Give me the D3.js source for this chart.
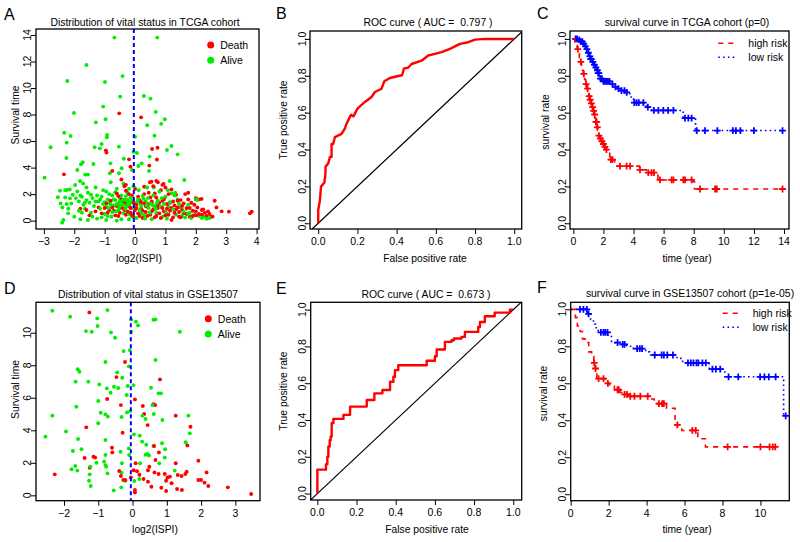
<!DOCTYPE html>
<html><head><meta charset="utf-8">
<script src="https://cdn.jsdelivr.net/npm/d3@7"></script>
<style>body{margin:0;background:#fff} text{font-family:"Liberation Sans",Arial,sans-serif;fill:#000;white-space:pre}</style>
</head><body><svg id="c" width="800" height="542"></svg>
<script>
// ---------- DATA ----------
const aAlive = [[-0.68,13.8],[0.73,13.8],[-1.6,11.74],[-2.23,10.53],[-0.99,10.45],[-0.41,10.9],[-0.49,9.35],[0.29,9.4],[0.51,9.2],[-2.01,8.12],[-1.05,8.6],[-0.97,7.64],[-1.29,7.41],[0.68,8.2],[0.98,7.64],[0.86,7.3],[0.40,7.19],[-2.33,6.63],[-2.12,6.38],[-2.25,5.88],[-0.92,6.46],[-0.93,6.28],[-1.10,5.78],[-1.16,5.45],[-1.33,5.53],[-2.78,5.53],[-0.53,5.58],[0.64,6.41],[1.20,5.63],[1.05,5.33],[1.40,5.0],[0.0,6.33],[-2.26,4.72],[-0.37,4.67],[0.48,4.83],[-1.37,4.27],[-0.81,4.32],[-1.78,4.25],[-1.72,4.4],[0.22,4.32],[-2.98,3.24],[-1.90,3.82],[-0.44,3.95],[-0.10,3.82],[0.11,4.12],[-0.53,3.57],[-0.83,3.57],[-1.64,3.47],[-1.55,3.47],[1.14,2.99],[1.62,3.07],[-1.81,2.99],[-1.71,2.81],[-1.97,2.69],[-2.25,2.31],[-2.47,2.26],[-2.54,1.76],[-2.39,1.0],[-2.36,0.05],[-2.40,-0.15],[-2.14,1.68],[0.46,3.75],[-0.05,5.2],[0.06,5.1],
[-2.3,2.3],[-2.15,2.35],[-2.05,1.95],[-2.1,1.3],[-2.25,1.25],[-2.2,0.9],[-1.95,1.7],[-1.85,1.45],[-1.75,1.8],[-1.7,1.2],[-1.65,0.9],[-1.6,1.55],[-1.55,2.1],[-1.5,1.35],[-1.45,0.6],[-1.4,1.7],[-1.35,1.1],[-1.3,2.5],[-1.25,0.15],[-1.2,1.45],[-1.15,0.9],[-1.1,1.8],[-1.05,1.25],[-1.0,0.5],[-0.95,2.2],[-0.9,1.6],[-0.88,0.95],[-0.85,1.35],[-0.8,2.9],[-0.78,0.3],[-0.75,1.9],[-0.7,1.15],[-0.65,1.55],[-0.62,0.7],[-0.6,2.4],[-0.55,1.3],[-0.52,1.0],[-0.5,1.7],[-0.45,0.1],[-0.42,1.45],[-0.4,1.2],[-0.38,2.8],[-0.35,1.6],[-0.32,0.9],[-0.3,1.35],[-0.28,1.1],[-0.25,2.1],[-0.22,1.5],[-0.2,0.5],[-0.18,1.25],[-0.15,1.75],[-0.1,0.95],[-0.05,2.6],[0.0,1.3],[0.05,0.2],[0.1,1.6],[0.12,2.3],[0.15,0.8],[0.2,1.1],[0.25,1.85],[0.3,0.4],[0.35,1.45],[0.4,2.5],[0.45,0.95],[0.5,1.3],[0.55,0.1],[0.6,1.9],[0.65,1.1],[0.7,0.6],[0.75,1.5],[0.8,2.2],[0.9,0.3],[0.95,1.25],[1.0,1.8],[1.05,0.15],[1.1,1.05],[1.2,2.05],[1.3,1.9],[1.35,0.45],[1.4,1.6],[1.5,1.0],[1.6,0.7],[1.65,0.25],[1.75,1.2],[1.85,0.2],[1.95,0.45],[2.05,1.55],[2.2,0.2],[2.35,0.15],[-2.0,0.3],[-1.8,0.1],[-1.55,0.05],[-0.95,0.05],[-0.6,0.0],[-0.2,0.1],[2.0,1.6],[1.75,0.5],
[-2.45,1.3],[-2.3,1.75],[-2.2,0.55],[-1.9,2.2],[-1.85,0.75],[-1.8,1.9],[-1.75,0.6],[-1.65,1.35],[-1.6,2.5],[-1.45,1.95],[-1.4,0.3],[-1.3,1.45],[-1.25,1.9],[-1.15,1.6],[-1.1,0.25],[-1.05,2.3],[-1.0,1.4],[-0.95,1.05],[-0.9,0.35],[-0.85,2.0],[-0.8,1.2],[-0.75,0.65],[-0.7,1.6],[-0.65,2.15],[-0.6,1.25],[-0.55,0.8],[-0.5,1.45],[-0.47,1.15],[-0.45,1.9],[-0.4,1.55],[-0.37,0.55],[-0.33,1.3],[-0.3,1.85],[-0.27,1.5],[-0.23,1.2],[-0.2,2.4],[-0.15,1.4],[-0.12,0.35],[-0.08,1.55],[0.02,1.0],[0.08,1.45],[0.18,1.3],[0.22,0.55],[0.28,1.65],[0.33,0.15],[0.38,1.15],[0.42,1.7],[0.48,0.6],[0.58,1.2],[0.62,2.5],[0.68,0.9],[0.72,1.35],[0.85,1.05],[0.88,1.7],[1.02,0.6],[1.08,2.3],[1.15,1.4],[1.25,0.85],[1.32,2.1],[1.45,1.25],[1.55,0.35],[1.7,0.9],[1.8,0.6],[2.1,0.35],[2.25,0.3],[2.45,0.2]];
const aDeath = [[-0.52,8.09],[0.20,7.79],[-0.94,5.13],[-0.96,5.3],[-0.2,4.62],[-2.34,3.49],[0.56,5.40],[0.74,5.50],[0.47,4.15],[-0.15,4.07],[0.54,2.94],[0.94,2.76],[-0.75,3.75],[-0.3,2.7],[0.72,4.61],[0.49,2.9],[0.75,2.9],
[-1.8,0.9],[-1.6,0.8],[-1.3,0.7],[-1.1,0.55],[-1.0,0.95],[-0.9,0.6],[-0.8,1.5],[-0.7,0.75],[-0.6,2.05],[-0.55,0.35],[-0.5,0.95],[-0.45,1.6],[-0.35,0.8],[-0.3,2.25],[-0.25,0.7],[-0.2,1.1],[-0.15,0.6],[-0.1,1.9],[-0.05,0.3],[0.0,0.8],[0.05,1.2],[0.1,0.55],[0.15,1.55],[0.2,0.9],[0.25,0.2],[0.3,1.3],[0.35,0.65],[0.4,1.05],[0.45,2.1],[0.5,0.45],[0.55,1.45],[0.6,0.85],[0.65,0.25],[0.7,1.75],[0.75,1.15],[0.8,0.55],[0.85,2.3],[0.9,0.95],[0.95,1.6],[1.0,0.4],[1.05,1.25],[1.1,2.0],[1.15,0.75],[1.2,0.05],[1.25,1.45],[1.3,0.6],[1.35,1.95],[1.4,1.0],[1.45,0.3],[1.5,1.55],[1.55,0.8],[1.6,1.3],[1.7,0.5],[1.75,1.6],[1.8,0.95],[1.9,0.35],[1.95,1.2],[2.0,0.7],[2.1,0.5],[2.19,1.64],[2.2,0.45],[2.24,0.85],[2.3,0.6],[2.4,0.7],[2.5,0.3],[2.55,0.3],[2.62,1.5],[2.68,1.0],[2.85,0.7],[3.09,0.68],[3.78,0.55],[3.84,0.68],
[-1.5,0.4],[-1.2,1.0],[-0.95,1.3],[-0.85,0.8],[-0.75,1.0],[-0.65,0.4],[-0.6,1.1],[-0.5,0.6],[-0.4,0.95],[-0.35,1.35],[-0.3,0.45],[-0.25,1.55],[-0.15,0.95],[-0.1,0.45],[-0.05,1.35],[0.0,2.4],[0.05,0.95],[0.1,1.8],[0.15,0.35],[0.2,1.4],[0.25,0.75],[0.3,2.0],[0.35,1.1],[0.4,0.35],[0.45,1.25],[0.5,1.75],[0.55,0.7],[0.6,1.15],[0.65,2.05],[0.7,0.35],[0.75,0.95],[0.8,1.35],[0.85,0.2],[0.9,1.5],[0.95,0.7],[1.0,2.5],[1.05,0.9],[1.1,0.45],[1.15,1.35],[1.2,0.95],[1.25,0.25],[1.3,1.15],[1.35,0.85],[1.4,1.5],[1.45,0.65],[1.5,0.25],[1.55,1.1],[1.6,0.55],[1.65,2.0],[1.7,0.95],[1.8,0.3],[1.85,1.35],[1.9,0.75],[2.0,0.4],[2.05,1.0],[2.1,1.6],[2.2,0.8],[2.35,0.35],[2.45,0.5],[2.0,1.7],[1.75,2.1],[0.9,2.7],[0.6,2.6],[0.3,2.55],[-0.2,2.0],[-0.55,1.85],[-0.45,3.1],[-0.35,2.6],[0.7,3.0],[1.2,2.35]];

const dAlive = [[-2.34,11.35],[-1.82,10.98],[-1.03,10.88],[-0.73,11.39],[-1.36,10.1],[-1.19,10.06],[-1.02,10.41],[-0.63,10.02],[-0.51,9.69],[-0.04,10.82],[0.10,10.68],[0.16,10.45],[0.61,10.8],[0.67,10.82],[1.38,10.06],[-0.04,10.06],[-0.26,8.87],[-0.08,8.93],[-0.79,8.2],[-0.11,7.93],[0.67,8.32],[-1.6,7.75],[-1.55,7.6],[-1.66,6.99],[-1.29,6.99],[-0.45,7.56],[-0.3,7.23],[-0.97,6.82],[-0.75,6.58],[-0.54,6.68],[-0.42,6.6],[-0.64,6.31],[-0.14,6.72],[0.03,6.78],[0.54,6.62],[-0.17,6.17],[-1.0,5.8],[-1.64,5.45],[0.76,6.27],[0.83,6.27],[0.58,5.55],[0.62,5.0],[-0.93,5.08],[-0.79,4.98],[-0.72,4.84],[-0.32,4.82],[-0.16,5.1],[-0.07,5.18],[0.29,4.9],[0.38,4.69],[0.87,4.63],[1.63,4.9],[-2.34,4.9],[-1.0,4.43],[-1.94,3.93],[-2.54,3.61],[-1.59,3.46],[-0.79,3.4],[0.04,3.75],[0.21,3.67],[0.28,3.3],[0.4,3.11],[0.61,3.03],[0.86,3.2],[1.55,3.26],[1.67,3.81],[-1.74,2.73],[-1.49,2.83],[-0.79,2.48],[-0.83,2.07],[-0.79,1.86],[-0.77,1.76],[-0.35,2.68],[-0.11,2.89],[-0.1,2.48],[-0.31,1.97],[0.38,2.5],[0.43,2.55],[0.48,2.45],[0.22,1.97],[0.78,1.97],[0.94,2.32],[0.95,2.83],[1.23,1.52],[-1.78,1.6],[-1.61,1.52],[-1.67,1.8],[-1.23,1.76],[-1.25,1.29],[-1.27,0.9],[-1.22,0.57],[-0.73,1.35],[-0.32,1.39],[-0.21,0.9],[-0.33,0.49],[0.05,0.88],[0.2,1.0],[-1.05,2.0],[-0.55,0.3]];
const dDeath = [[-1.26,11.25],[-0.22,8.2],[-0.47,7.27],[0.8,7.13],[-0.74,5.92],[0.07,5.9],[-0.34,5.55],[0.3,5.49],[0.61,5.6],[0.66,5.55],[0.34,5.0],[0.44,4.32],[1.26,4.9],[1.69,4.22],[-1.35,4.18],[-0.29,3.85],[0.63,3.03],[1.6,3.07],[-0.6,2.93],[-0.59,2.64],[0.77,2.64],[-1.14,2.38],[-1.09,2.32],[-1.4,2.3],[-1.25,1.7],[0.09,1.97],[0.67,2.17],[1.26,1.97],[1.92,2.13],[-2.27,1.29],[-0.39,1.5],[-0.34,1.19],[-0.27,0.94],[-0.21,0.94],[0.03,1.54],[0.2,1.27],[0.32,1.0],[0.45,0.84],[0.13,1.48],[0.45,1.54],[0.49,1.76],[0.64,1.41],[0.76,1.31],[0.94,1.31],[0.98,0.9],[1.09,1.15],[1.14,0.74],[0.98,0.27],[1.32,1.25],[1.43,1.19],[1.54,1.31],[1.58,1.45],[1.44,0.33],[1.3,0.39],[1.92,0.94],[2.0,0.94],[2.1,0.78],[2.16,1.41],[2.21,0.57],[2.78,0.49],[3.46,0.08],[0.07,0.33],[0.07,0.18],[0.55,0.53],[0.84,0.47],[1.02,1.1],[-0.05,1.1]];

const rocB = [[0,0],[0,0.072],[0.009,0.127],[0.014,0.199],[0.031,0.22],[0.037,0.27],[0.037,0.307],[0.051,0.325],[0.06,0.36],[0.068,0.36],[0.068,0.43],[0.076,0.43],[0.085,0.467],[0.119,0.485],[0.136,0.515],[0.145,0.542],[0.167,0.588],[0.18,0.58],[0.2,0.622],[0.238,0.658],[0.272,0.685],[0.289,0.712],[0.323,0.73],[0.337,0.77],[0.366,0.788],[0.408,0.799],[0.428,0.803],[0.437,0.839],[0.46,0.845],[0.476,0.864],[0.527,0.882],[0.561,0.91],[0.595,0.919],[0.629,0.928],[0.672,0.946],[0.723,0.973],[0.765,0.982],[0.8,0.996],[0.85,1.0],[1,1]];
const rocE = [[0,0],[0,0.13],[0.039,0.13],[0.044,0.16],[0.051,0.2],[0.056,0.256],[0.063,0.29],[0.068,0.31],[0.073,0.383],[0.082,0.406],[0.124,0.406],[0.133,0.428],[0.164,0.428],[0.167,0.473],[0.243,0.473],[0.252,0.509],[0.275,0.509],[0.291,0.545],[0.328,0.545],[0.332,0.563],[0.36,0.563],[0.371,0.608],[0.388,0.635],[0.396,0.671],[0.413,0.698],[0.532,0.698],[0.558,0.722],[0.595,0.722],[0.6,0.747],[0.609,0.783],[0.645,0.783],[0.651,0.825],[0.685,0.834],[0.697,0.843],[0.736,0.852],[0.753,0.879],[0.804,0.879],[0.821,0.906],[0.83,0.933],[0.855,0.964],[0.898,0.964],[0.905,0.984],[0.974,0.984],[0.983,1.0],[1,1]];

const survCHigh = [[0,1],[0.1,0.985],[0.18,0.965],[0.25,0.945],[0.33,0.92],[0.4,0.9],[0.47,0.876],[0.55,0.85],[0.6,0.83],[0.66,0.81],[0.75,0.78],[0.82,0.755],[0.9,0.73],[0.97,0.71],[1.03,0.69],[1.1,0.67],[1.17,0.65],[1.24,0.63],[1.3,0.61],[1.38,0.59],[1.44,0.57],[1.5,0.55],[1.56,0.52],[1.62,0.5],[1.68,0.475],[1.76,0.46],[1.85,0.445],[1.95,0.43],[2.05,0.415],[2.15,0.4],[2.3,0.385],[2.42,0.345],[2.75,0.325],[2.9,0.31],[4.4,0.29],[4.85,0.275],[5.62,0.235],[7.95,0.225],[8.05,0.186],[13.9,0.186]];
const survCLow = [[0,1],[0.3,0.995],[0.5,0.985],[0.65,0.975],[0.75,0.96],[0.85,0.945],[0.95,0.925],[1.05,0.905],[1.15,0.89],[1.25,0.875],[1.35,0.86],[1.45,0.845],[1.55,0.83],[1.65,0.815],[1.72,0.8],[1.8,0.785],[1.95,0.77],[2.5,0.755],[2.65,0.74],[2.95,0.73],[3.2,0.72],[3.55,0.71],[3.75,0.69],[3.85,0.675],[4.0,0.655],[4.7,0.645],[4.85,0.63],[5.2,0.612],[7.3,0.57],[8.12,0.503],[13.9,0.503]];
const censCHigh = [0.3,0.5,0.7,0.85,0.95,1.05,1.12,1.2,1.28,1.35,1.42,1.5,1.55,1.6,1.7,1.8,1.9,2.0,2.1,2.2,2.5,2.6,3.1,3.54,3.77,4.43,4.98,5.2,5.36,5.76,6.53,6.65,7.31,7.42,7.86,8.42,9.42,9.53,13.9];
const censCLow = [0.15,0.25,0.4,0.5,0.6,0.7,0.8,0.9,1.0,1.1,1.15,1.2,1.3,1.4,1.5,1.6,1.65,1.7,1.8,1.9,2.0,2.1,2.2,2.3,2.4,2.6,2.8,3.0,3.2,3.4,3.55,4.05,4.2,4.35,4.65,4.95,5.35,5.65,5.98,6.3,6.65,7.42,7.64,7.86,8.2,8.75,9.57,10.6,10.8,11.1,12.0,13.9];

const survFHigh = [[0,1],[0.25,0.955],[0.35,0.91],[0.5,0.88],[0.62,0.84],[0.75,0.82],[0.95,0.77],[1.1,0.745],[1.22,0.71],[1.3,0.68],[1.38,0.625],[1.9,0.6],[2.05,0.585],[2.3,0.565],[2.6,0.55],[2.8,0.54],[3.0,0.53],[4.1,0.515],[4.4,0.49],[5.05,0.465],[5.5,0.375],[5.85,0.345],[6.7,0.3],[7.1,0.256],[10.8,0.256]];
const survFLow = [[0,1],[0.9,0.975],[1.05,0.945],[1.2,0.92],[1.3,0.9],[1.45,0.875],[1.95,0.86],[2.15,0.82],[2.6,0.81],[2.95,0.8],[3.3,0.787],[3.95,0.77],[4.15,0.753],[5.6,0.735],[5.9,0.71],[7.3,0.677],[8.12,0.635],[11.22,0.424],[11.33,0.424]];
const censFHigh = [1.24,1.31,1.47,1.73,1.96,2.47,2.53,2.84,2.97,3.14,3.36,3.67,4.06,4.65,4.82,4.91,5.62,6.41,6.59,8.27,10.0,10.48,10.65,10.78];
const censFLow = [0.49,0.67,0.85,0.94,1.59,1.73,1.82,1.94,2.47,2.74,2.84,3.5,3.64,3.76,4.43,4.79,4.91,5.09,5.39,6.18,6.33,6.47,6.63,6.73,6.94,7.12,7.47,7.65,7.88,8.32,8.83,9.98,10.21,10.44,10.8,11.33];

const ticksA_x = [-3,-2,-1,0,1,2,3,4];
const ticksA_y = [0,2,4,6,8,10,12,14];
const ticksD_x = [-2,-1,0,1,2,3];
const ticksD_y = [0,2,4,6,8,10];
const ticksRate = [0,0.2,0.4,0.6,0.8,1.0];
const ticksC_x = [0,2,4,6,8,10,12,14];
const ticksF_x = [0,2,4,6,8,10];
const cutA = -0.04, cutD = -0.05;

// ---------- DRAW ----------
const svg = d3.select("#c");
const fmtInt = d => d < 0 ? "\u2212" + Math.abs(d) : String(d);
const fmt1 = d3.format(".1f");
const RED = "#ff0000", GREEN = "#00ee00", BLUE = "#0000ff";
const TICK_FS = 10.5, LAB_FS = 10.3, TITLE_FS = 10.4;

function panel(c) {
  const g = svg.append("g");
  const x = d3.scaleLinear().domain(c.xd).range([c.box.l, c.box.r]);
  const y = d3.scaleLinear().domain(c.yd).range([c.box.b, c.box.t]);
  const xa = d3.axisBottom(x).tickValues(c.xt).tickSize(5).tickSizeOuter(0).tickFormat("");
  g.append("g").attr("transform", `translate(0,${c.box.b})`).call(xa)
    .call(s => s.select(".domain").remove()).selectAll("line").attr("stroke", "#000");
  const ya = d3.axisLeft(y).tickValues(c.yt).tickSize(5).tickSizeOuter(0).tickFormat("");
  g.append("g").attr("transform", `translate(${c.box.l},0)`).call(ya)
    .call(s => s.select(".domain").remove()).selectAll("line").attr("stroke", "#000");
  g.selectAll(null).data(c.xt).join("text")
    .attr("x", d => x(d)).attr("y", c.box.b + 15.8).attr("text-anchor", "middle")
    .attr("font-size", TICK_FS).text(c.xfmt || c.fmt);
  g.selectAll(null).data(c.yt).join("text")
    .attr("transform", d => `translate(${c.box.l - c.yoff},${y(d)}) rotate(-90)`)
    .attr("text-anchor", "middle").attr("font-size", TICK_FS).text(c.fmt);
  const cy = (c.box.t + c.box.b) / 2;
  g.append("text").attr("x", c.xlabX).attr("y", c.box.b + 32.5).attr("text-anchor", "middle")
    .attr("font-size", LAB_FS).text(c.xlab);
  g.append("text").attr("transform", `translate(${c.ylabX},${cy + c.ylabDy}) rotate(-90)`)
    .attr("text-anchor", "middle").attr("font-size", LAB_FS).text(c.ylab);
  g.append("text").attr("x", c.titleX).attr("y", c.titleY).attr("text-anchor", "middle")
    .attr("font-size", TITLE_FS).text(c.title);
  g.append("text").attr("x", c.letterX).attr("y", c.letterY).attr("font-size", 16).text(c.letter);
  const clipId = "clip" + c.letter;
  g.append("clipPath").attr("id", clipId).append("rect")
    .attr("x", c.box.l).attr("y", c.box.t).attr("width", c.box.r - c.box.l).attr("height", c.box.b - c.box.t);
  const plot = g.append("g").attr("clip-path", `url(#${clipId})`);
  const frame = () => g.append("rect").attr("x", c.box.l).attr("y", c.box.t)
    .attr("width", c.box.r - c.box.l).attr("height", c.box.b - c.box.t)
    .attr("fill", "none").attr("stroke", "#000").attr("stroke-width", 1.3);
  return { g, plot, x, y, frame, box: c.box };
}

function scatter(p, alive, death, cut, leg) {
  const all = alive.map(d => [d, GREEN]).concat(death.map(d => [d, RED]));
  all.sort((a, b) => (a[0][0] * 7.31 + a[0][1] * 3.17) % 1 - (b[0][0] * 7.31 + b[0][1] * 3.17) % 1);
  p.plot.selectAll(null).data(all).join("circle")
    .attr("cx", d => p.x(d[0][0])).attr("cy", d => p.y(d[0][1])).attr("r", 1.95).attr("fill", d => d[1]);
  p.plot.append("line").attr("x1", p.x(cut)).attr("x2", p.x(cut))
    .attr("y1", p.box.t).attr("y2", p.box.b).attr("stroke", BLUE).attr("stroke-width", 2)
    .attr("stroke-dasharray", "4,3");
  const items = [["Death", RED], ["Alive", GREEN]];
  items.forEach((it, i) => {
    p.g.append("circle").attr("cx", leg.x).attr("cy", leg.y + i * 15.3).attr("r", 3.5).attr("fill", it[1]);
    p.g.append("text").attr("x", leg.x + 9.5).attr("y", leg.y + i * 15.3 + 3.8).attr("font-size", 10.5).text(it[0]);
  });
  p.frame();
}

function roc(p, data, stepped) {
  const d0 = Math.max(p.x.domain()[0], p.y.domain()[0]), d1 = Math.min(p.x.domain()[1], p.y.domain()[1]);
  p.plot.append("line").attr("x1", p.x(d0)).attr("y1", p.y(d0)).attr("x2", p.x(d1)).attr("y2", p.y(d1))
    .attr("stroke", "#000").attr("stroke-width", 1.2);
  const line = d3.line().x(d => p.x(d[0])).y(d => p.y(d[1])).curve(stepped ? d3.curveStepAfter : d3.curveLinear);
  p.plot.append("path").attr("d", line(data)).attr("fill", "none").attr("stroke", RED)
    .attr("stroke-width", 2.4).attr("stroke-linejoin", "round");
  p.frame();
}

function stepVal(steps, t) {
  let v = steps[0][1];
  for (const s of steps) { if (s[0] <= t) v = s[1]; else break; }
  return v;
}

function surv(p, high, low, cHigh, cLow, leg) {
  const line = d3.line().x(d => p.x(d[0])).y(d => p.y(d[1])).curve(d3.curveStepAfter);
  const drawCurve = (steps, cens, col, dash, w) => {
    p.plot.append("path").attr("d", line(steps)).attr("fill", "none").attr("stroke", col)
      .attr("stroke-width", w).attr("stroke-dasharray", dash);
    p.plot.selectAll(null).data(cens).join("path")
      .attr("transform", t => `translate(${p.x(t)},${p.y(stepVal(steps, t))})`)
      .attr("d", "M-3.4,0H3.4M0,-3.4V3.4").attr("stroke", col).attr("stroke-width", 1.8);
  };
  drawCurve(low, cLow, BLUE, "1.6,3.2", 1.6);
  drawCurve(high, cHigh, RED, "5,5", 1.6);
  [["high risk", RED, "5,5"], ["low risk", BLUE, "1.6,3.2"]].forEach((it, i) => {
    p.g.append("line").attr("x1", leg.x).attr("x2", leg.x + 17).attr("y1", leg.y + i * 14).attr("y2", leg.y + i * 14)
      .attr("stroke", it[1]).attr("stroke-width", 1.6).attr("stroke-dasharray", it[2]);
    p.g.append("text").attr("x", leg.x + 30).attr("y", leg.y + i * 14 + 3.7).attr("font-size", 10.5).text(it[0]);
  });
  p.frame();
}

// Panel A
const pA = panel({ box: { l: 36, r: 259, t: 29, b: 229 }, xd: [-3.26, 4.08], yd: [-0.63, 14.45],
  xt: ticksA_x, yt: ticksA_y, fmt: fmtInt, yoff: 5, ylabX: 19, ylabDy: -14, xlab: "log2(ISPI)", xlabX: 139, ylab: "Survival time",
  title: "Distribution of vital status in TCGA cohort", titleX: 145, titleY: 26.3, letter: "A", letterX: 4, letterY: 20 });
scatter(pA, aAlive, aDeath, cutA, { x: 210.7, y: 45 });

// Panel B
const pB = panel({ box: { l: 310, r: 521.7, t: 31, b: 229 }, xd: [-0.042, 1.038], yd: [-0.031, 1.043],
  xt: ticksRate, yt: ticksRate, fmt: fmt1, yoff: 4.5, ylabX: 287, ylabDy: -10, xlab: "False positive rate", xlabX: 425, ylab: "True positive rate",
  title: "ROC curve ( AUC =  0.797 )", titleX: 428, titleY: 26.3, letter: "B", letterX: 276, letterY: 18.5 });
roc(pB, rocB, false);

// Panel C
const pC = panel({ box: { l: 570, r: 789, t: 31, b: 229 }, xd: [-0.22, 14.33], yd: [-0.031, 1.043],
  xt: ticksC_x, yt: ticksRate, fmt: fmt1, xfmt: fmtInt, yoff: 4.5, ylabX: 548.5, ylabDy: -8, xlab: "time (year)", xlabX: 687, ylab: "survival rate",
  title: "survival curve in TCGA cohort (p=0)", titleX: 687, titleY: 26.3, letter: "C", letterX: 537, letterY: 18.5 });
surv(pC, survCHigh, survCLow, censCHigh, censCLow, { x: 718.3, y: 43.3 });

// Panel D
const pD = panel({ box: { l: 36, r: 260, t: 302.3, b: 500.7 }, xd: [-2.817, 3.719], yd: [-0.33, 11.87],
  xt: ticksD_x, yt: ticksD_y, fmt: fmtInt, yoff: 5, ylabX: 19, ylabDy: -12, xlab: "log2(ISPI)", xlabX: 155, ylab: "Survival time",
  title: "Distribution of vital status in GSE13507", titleX: 148, titleY: 297.6, letter: "D", letterX: 4, letterY: 294 });
scatter(pD, dAlive, dDeath, cutD, { x: 208.3, y: 318.7 });

// Panel E
const pE = panel({ box: { l: 310.7, r: 521.7, t: 302.3, b: 500 }, xd: [-0.034, 1.043], yd: [-0.035, 1.04],
  xt: ticksRate, yt: ticksRate, fmt: fmt1, yoff: 4.5, ylabX: 287, ylabDy: -10, xlab: "False positive rate", xlabX: 427, ylab: "True positive rate",
  title: "ROC curve ( AUC =  0.673 )", titleX: 426, titleY: 297.6, letter: "E", letterX: 276, letterY: 294 });
roc(pE, rocE, true);

// Panel F
const pF = panel({ box: { l: 570.7, r: 789.3, t: 302.3, b: 500.7 }, xd: [0, 11.52], yd: [-0.035, 1.038],
  xt: ticksF_x, yt: ticksRate, fmt: fmt1, xfmt: fmtInt, yoff: 4.5, ylabX: 547, ylabDy: -8, xlab: "time (year)", xlabX: 687, ylab: "survival rate",
  title: "survival curve in GSE13507 cohort (p=1e-05)", titleX: 690, titleY: 297, letter: "F", letterX: 537, letterY: 292.5 });
surv(pF, survFHigh, survFLow, censFHigh, censFLow, { x: 722.7, y: 313.3 });
</script></body></html>
